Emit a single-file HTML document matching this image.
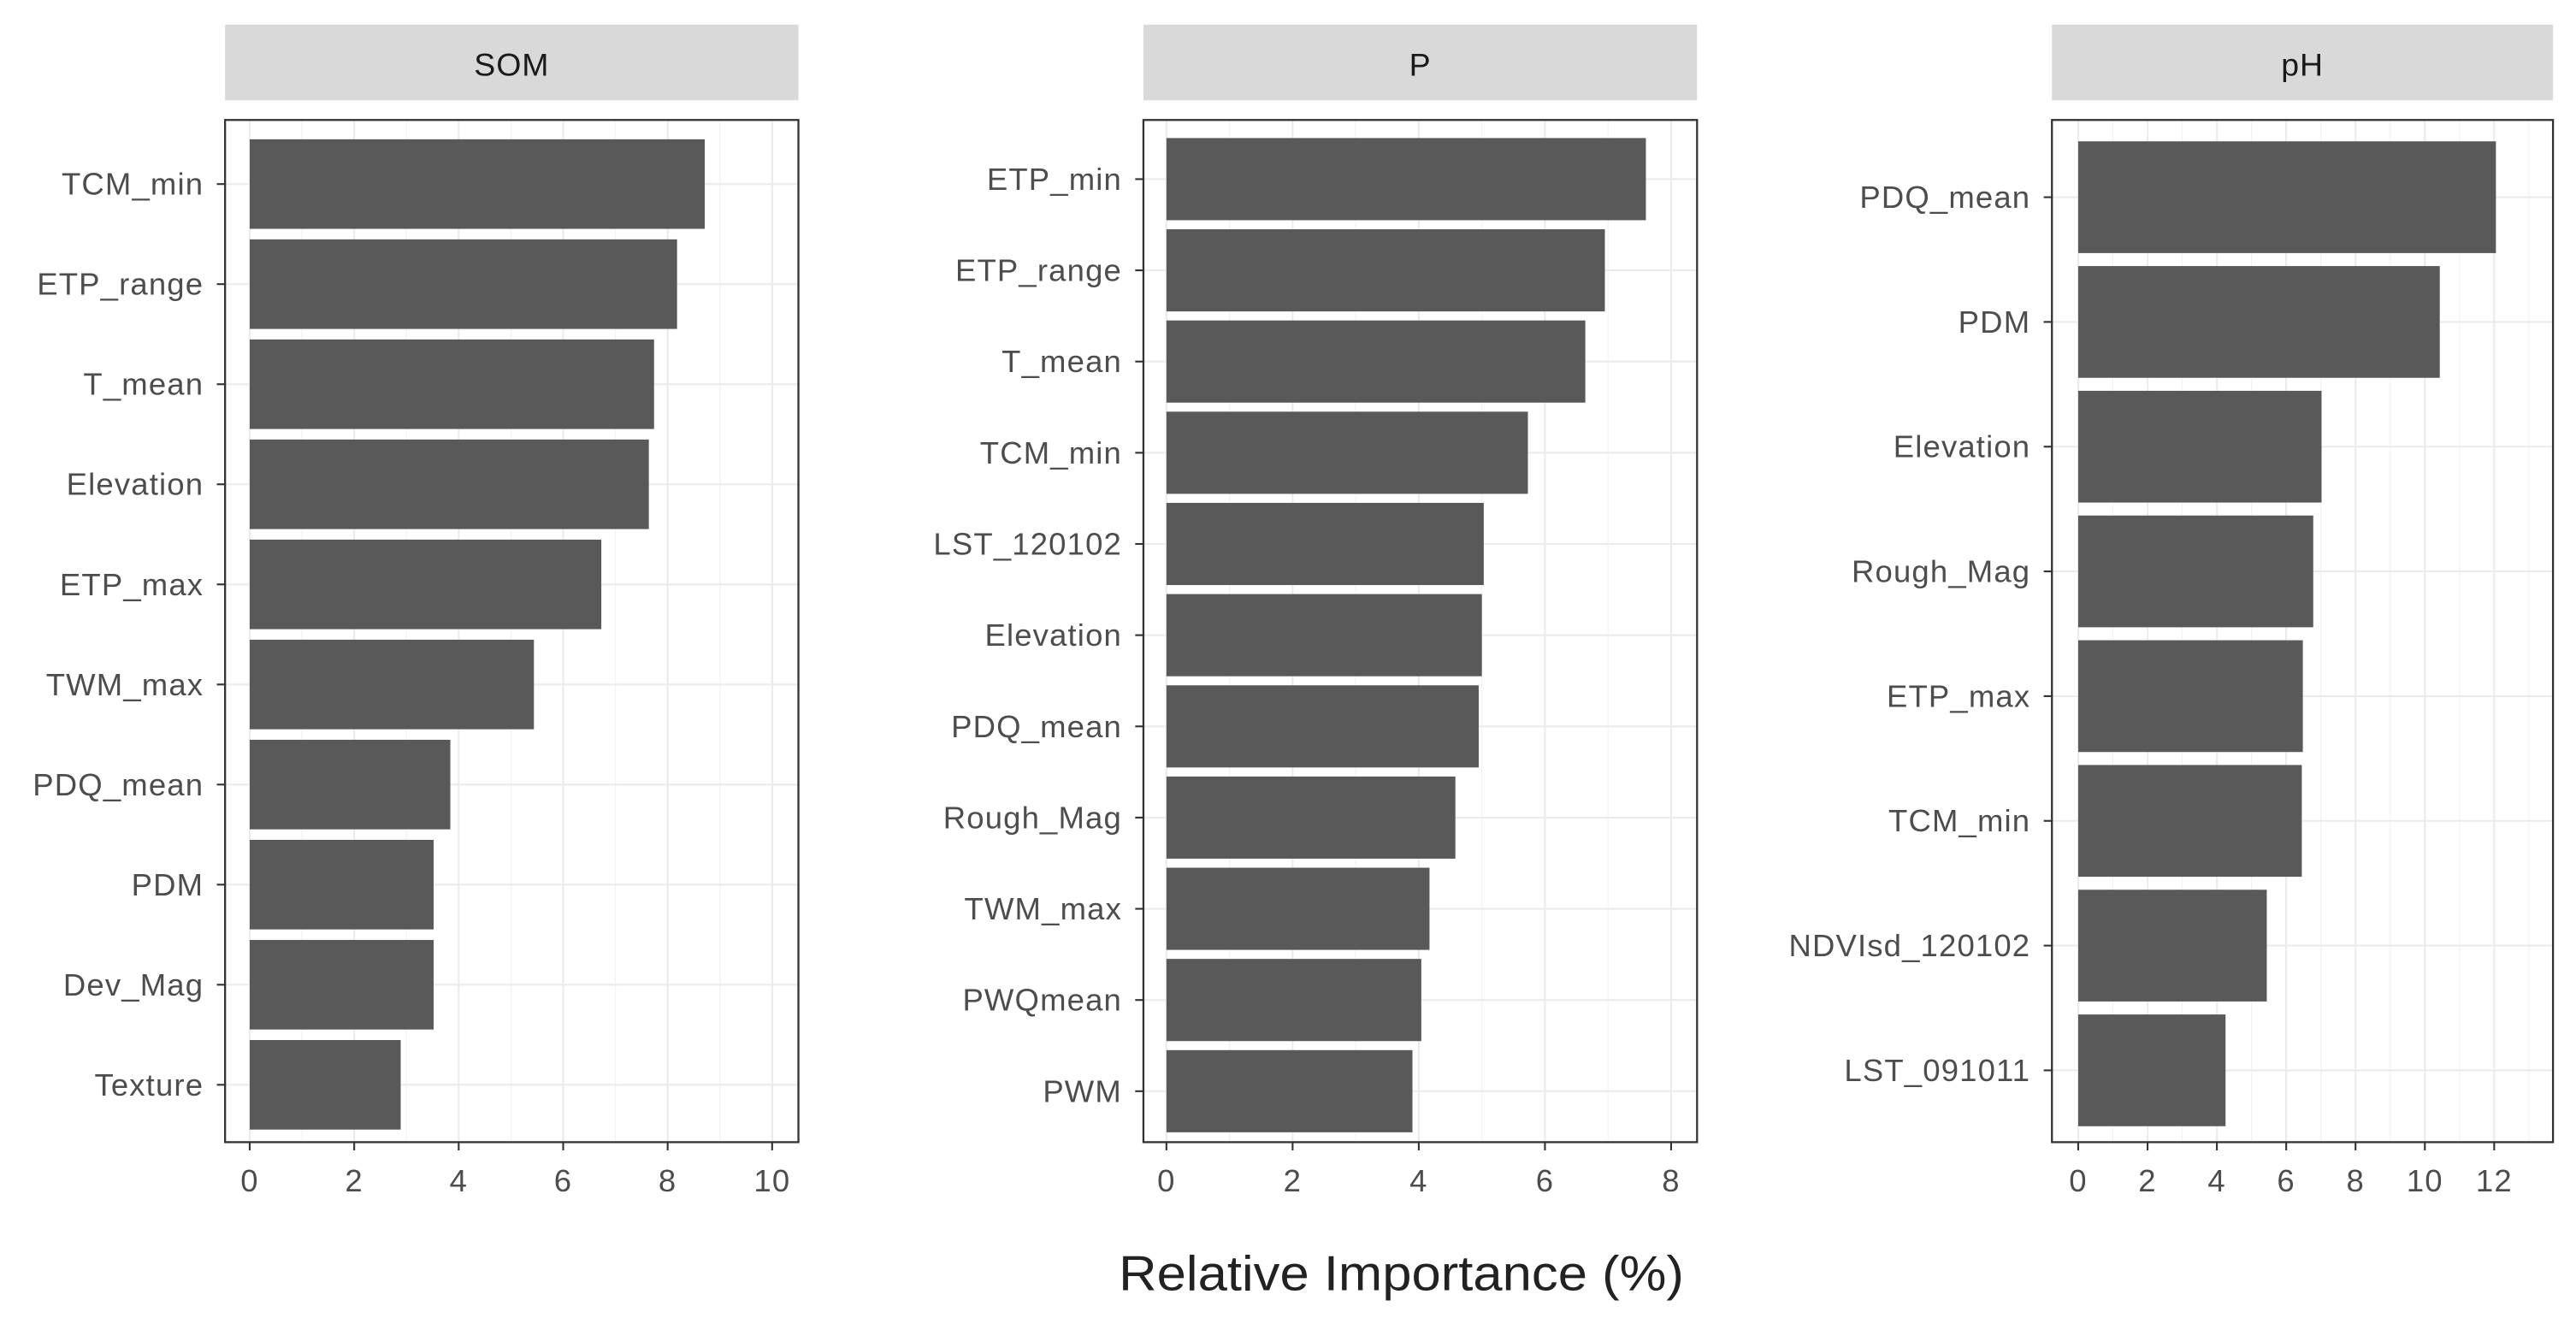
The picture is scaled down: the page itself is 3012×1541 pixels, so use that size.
<!DOCTYPE html>
<html><head><meta charset="utf-8">
<style>
html,body{margin:0;padding:0;background:#fff;}
svg{display:block;}
text{font-family:"Liberation Sans",sans-serif;}
</style></head>
<body>
<svg id="chart" width="3012" height="1541" viewBox="0 0 1568 802" preserveAspectRatio="none" xmlns="http://www.w3.org/2000/svg">
<text x="853" y="785" font-size="30" fill="#222" text-anchor="middle" textLength="344" lengthAdjust="spacingAndGlyphs">Relative Importance (%)</text>
</svg>
<script>
const somLabels = ["TCM_min","ETP_range","T_mean","Elevation","ETP_max","TWM_max","PDQ_mean","PDM","Dev_Mag","Texture"];
const somValues = [8.71,8.18,7.74,7.64,6.73,5.44,3.84,3.52,3.52,2.89];
const somTicks = [0,2,4,6,8,10];
const pLabels = ["ETP_min","ETP_range","T_mean","TCM_min","LST_120102","Elevation","PDQ_mean","Rough_Mag","TWM_max","PWQmean","PWM"];
const pValues = [7.6,6.95,6.64,5.73,5.03,5.0,4.95,4.58,4.17,4.04,3.9];
const pTicks = [0,2,4,6,8];
const phLabels = ["PDQ_mean","PDM","Elevation","Rough_Mag","ETP_max","TCM_min","NDVIsd_120102","LST_091011"];
const phValues = [12.05,10.43,7.02,6.78,6.48,6.45,5.44,4.25];
const phTicks = [0,2,4,6,8,10,12];

const NS = "http://www.w3.org/2000/svg";
const svg = document.getElementById('chart');
function mk(tag, attrs, parent){
  const e = document.createElementNS(NS, tag);
  for (const k in attrs) e.setAttribute(k, attrs[k]);
  (parent||svg).appendChild(e);
  return e;
}
function panel(cfg){
  const {title, labels, values, ticks, left, right, top, bottom, x0, unit, c0, step, bh, slug} = cfg;
  const g = mk('g', {});
  
  
  const xs = v => x0 + v*unit;
  const ys = i => c0 + i*step;
  const strip = mk('rect', {x:left, y:15, width:right-left, height:46, fill:'#d9d9d9'}, g);
  
  
  const st = mk('text', {x:(left+right)/2, y:46, 'font-size':19.5, fill:'#1a1a1a', 'text-anchor':'middle', 'letter-spacing':0.5}, g);
  st.textContent = title;
  
  
  const maxT = ticks[ticks.length-1];
  for (let v = ticks[0] + 1; v <= maxT + 1; v += 2){
    if (xs(v) >= right) break;
    const l = mk('line', {x1:xs(v), x2:xs(v), y1:top, y2:bottom, stroke:'#f2f2f2', 'stroke-width':0.6}, g);
    
    
  }
  ticks.forEach(t => {
    const l = mk('line', {x1:xs(t), x2:xs(t), y1:top, y2:bottom, stroke:'#ebebeb', 'stroke-width':1.1}, g);
    
    
  });
  labels.forEach((lab, i) => {
    const l = mk('line', {x1:left, x2:right, y1:ys(i), y2:ys(i), stroke:'#ebebeb', 'stroke-width':1.1}, g);
    
    
  });
  labels.forEach((lab, i) => {
    const r = mk('rect', {x:xs(0), y:ys(i)-bh/2, width:xs(values[i])-xs(0), height:bh, fill:'#595959'}, g);
    
    
    const tk = mk('line', {x1:left-5, x2:left, y1:ys(i), y2:ys(i), stroke:'#333', 'stroke-width':1.1}, g);
    
    
    const tx = mk('text', {x:left-13, y:ys(i)+6.5, 'font-size':19, fill:'#4d4d4d', 'text-anchor':'end', 'letter-spacing':0.6}, g);
    tx.textContent = lab;
    
    
  });
  const b = mk('rect', {x:left, y:top, width:right-left, height:bottom-top, fill:'none', stroke:'#333', 'stroke-width':1.2}, g);
  
  
  ticks.forEach(t => {
    const tk = mk('line', {x1:xs(t), x2:xs(t), y1:bottom, y2:bottom+5, stroke:'#333', 'stroke-width':1.1}, g);
    
    
    const tx = mk('text', {x:xs(t), y:bottom+30, 'font-size':19, fill:'#4d4d4d', 'text-anchor':'middle', 'letter-spacing':0.6}, g);
    tx.textContent = String(t);
    
    
  });
}
panel({title:'SOM', slug:'som', labels:somLabels, values:somValues, ticks:somTicks,
  left:137, right:486, top:73, bottom:695, x0:152, unit:31.8, c0:112, step:60.9, bh:54.5});
panel({title:'P', slug:'p', labels:pLabels, values:pValues, ticks:pTicks,
  left:696, right:1033, top:73, bottom:695, x0:710, unit:38.4, c0:109, step:55.5, bh:50});
panel({title:'pH', slug:'ph', labels:phLabels, values:phValues, ticks:phTicks,
  left:1249, right:1554, top:73, bottom:695, x0:1265, unit:21.1, c0:120, step:75.9, bh:68});
</script>
</body></html>
